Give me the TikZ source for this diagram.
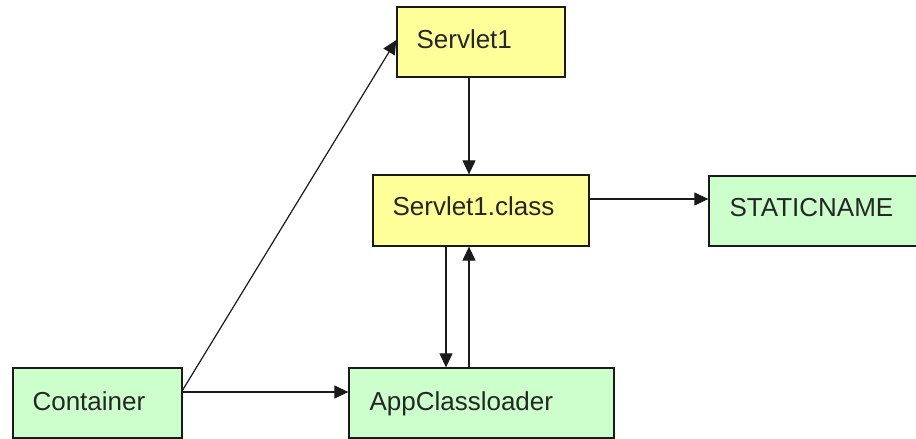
\documentclass[tikz,border=0pt]{standalone}
\usepackage{fontspec}
\setmainfont{Liberation Sans}
\usetikzlibrary{arrows.meta}
\definecolor{boxyellow}{HTML}{FFFF99}
\definecolor{boxgreen}{HTML}{CCFFCC}
\definecolor{edge}{HTML}{1A1A1A}
\tikzset{
  box/.style={draw=edge, line width=1.3pt, rectangle, inner sep=0pt},
  yellowbox/.style={box, fill=boxyellow},
  greenbox/.style={box, fill=boxgreen},
  boxtext/.style={anchor=base west, inner sep=0pt, font=\fontsize{26}{31}\selectfont, text=black!85},
  link/.style={draw=edge, line width=1.2pt, -{Triangle[length=14pt,width=13pt]}},
}
\begin{document}
\begin{tikzpicture}[x=1pt,y=-1pt]
  \clip (0,0) rectangle (916,439);
  \fill[white] (0,0) rectangle (916,439);

  % boxes
  \node[yellowbox, minimum width=168pt, minimum height=70pt] (s1) at (481,42) {};
  \node[yellowbox, minimum width=216pt, minimum height=71pt] (sc) at (481,210.5) {};
  \node[greenbox,  minimum width=226pt, minimum height=70pt] (st) at (822,211) {};
  \node[greenbox,  minimum width=169pt, minimum height=70pt] (co) at (97.5,403) {};
  \node[greenbox,  minimum width=265pt, minimum height=70pt] (ap) at (481.5,403) {};

  % labels
  \node[boxtext] (s1t) at ([shift={(20pt,-6pt)}]s1.west) {Servlet1};
  \node[boxtext] (sct) at ([shift={(20pt,-4.5pt)}]sc.west) {Servlet1.class};
  \node[boxtext] (stt) at ([shift={(21pt,-5pt)}]st.west) {STATICNAME};
  \node[boxtext] (cot) at ([shift={(20pt,-7pt)}]co.west) {Container};
  \node[boxtext] (apt) at ([shift={(21pt,-7pt)}]ap.west) {AppClassloader};

  % connectors
  \draw[link] ([xshift=-12pt]s1.south) -- ([xshift=-12pt]sc.north);
  \draw[link] ([yshift=11.5pt]sc.east) -- ([yshift=12pt]st.west);
  \draw[link] ([xshift=-35pt]sc.south) -- ([xshift=-35.5pt]ap.north);
  \draw[link] ([xshift=-12.5pt]ap.north) -- ([xshift=-12pt]sc.south);
  \draw[link] ([yshift=11pt]co.east) -- ([yshift=11pt]ap.west);
  \draw[link] ([yshift=13pt]co.east) -- ([yshift=2pt]s1.west);
\end{tikzpicture}
\end{document}
